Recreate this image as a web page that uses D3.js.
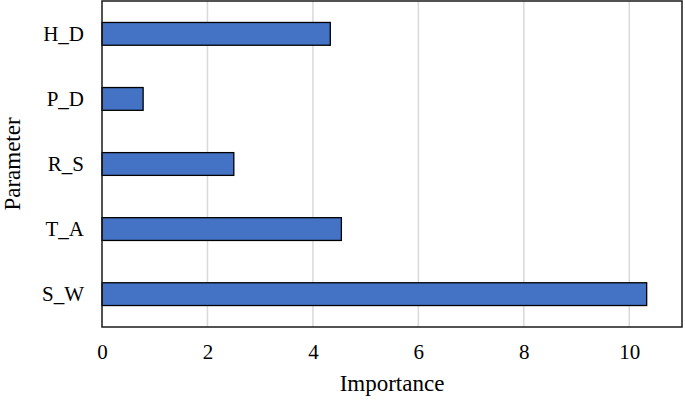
<!DOCTYPE html>
<html>
<head>
<meta charset="utf-8">
<script src="https://cdn.jsdelivr.net/npm/d3@7"></script>
<style>
  body { margin: 0; background: #fff; font-family: "Liberation Serif", serif; }
  svg { display: block; font-family: "Liberation Serif", serif; }
</style>
</head>
<body>
<script>
const params = ["H_D", "P_D", "R_S", "T_A", "S_W"];
const importance = [4.33, 0.78, 2.5, 4.54, 10.33];
const xTicks = [0, 2, 4, 6, 8, 10];

const width = 685;
const height = 400;
const margin = { top: 1, right: 3, bottom: 73, left: 102 };
const innerW = width - margin.left - margin.right;
const innerH = height - margin.top - margin.bottom;
const font = "Liberation Serif";

const xScale = d3.scaleLinear().domain([0, 11]).range([0, innerW]);
const yScale = d3
  .scaleBand()
  .domain(params)
  .range([0, innerH])
  .paddingInner(0.65)
  .paddingOuter(0.33);

const svg = d3
  .select("body")
  .append("svg")
  .attr("width", width)
  .attr("height", height);

const g = svg
  .append("g")
  .attr("transform", `translate(${margin.left} ${margin.top})`);

// grid
g.append("g")
  .selectAll("line")
  .data(xTicks.filter((d) => d > 0))
  .enter()
  .append("line")
  .attr("x1", (d) => xScale(d))
  .attr("x2", (d) => xScale(d))
  .attr("y1", 0)
  .attr("y2", innerH)
  .attr("stroke", "#d9d9d9")
  .attr("stroke-width", 1.5);

// bars
g.append("g")
  .selectAll("rect")
  .data(params)
  .enter()
  .append("rect")
  .attr("x", 0)
  .attr("y", (d) => yScale(d))
  .attr("width", (_, i) => xScale(importance[i]))
  .attr("height", yScale.bandwidth())
  .attr("fill", "#4472c4")
  .attr("stroke", "#000")
  .attr("stroke-width", 1.3);

// frame
g.append("rect")
  .attr("width", innerW)
  .attr("height", innerH)
  .attr("fill", "none")
  .attr("stroke", "#1a1a1a")
  .attr("stroke-width", 1.5);

// x axis
const xAxis = g
  .append("g")
  .attr("transform", `translate(0 ${innerH})`)
  .call(d3.axisBottom(xScale).tickValues(xTicks).tickSize(0).tickPadding(17));
xAxis.select(".domain").remove();
xAxis.attr("font-family", font).attr("font-size", 21);
xAxis.selectAll("text").style("font-family", font).attr("fill", "#000");

// y axis
const yAxis = g
  .append("g")
  .call(d3.axisLeft(yScale).tickSize(0).tickPadding(18));
yAxis.select(".domain").remove();
yAxis.attr("font-family", font).attr("font-size", 21);
yAxis.selectAll("text").style("font-family", font).attr("fill", "#000");

// titles
svg
  .append("text")
  .attr("x", margin.left + innerW / 2)
  .attr("y", 391)
  .attr("text-anchor", "middle")
  .style("font-family", font)
  .attr("font-size", 23)
  .attr("fill", "#000")
  .text("Importance");

svg
  .append("text")
  .attr("transform", `translate(20 ${margin.top + innerH / 2}) rotate(-90)`)
  .attr("text-anchor", "middle")
  .style("font-family", font)
  .attr("font-size", 23)
  .attr("fill", "#000")
  .text("Parameter");
</script>
</body>
</html>
